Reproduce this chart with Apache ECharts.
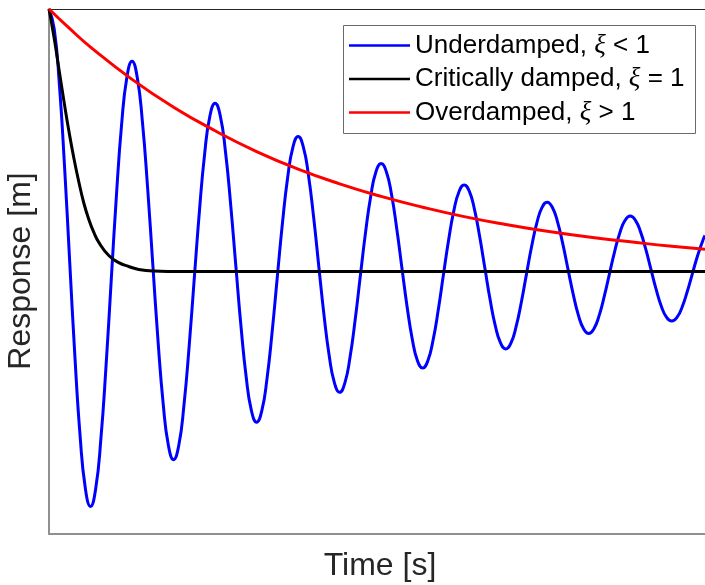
<!DOCTYPE html>
<html>
<head>
<meta charset="utf-8">
<script src="https://cdn.jsdelivr.net/npm/echarts@6/dist/echarts.min.js"></script>
<style>
  html, body { margin: 0; padding: 0; background: #fff; }
  #chart { width: 705px; height: 585px; }
</style>
</head>
<body>
<div id="chart"></div>
<script>
// Free response of a single-degree-of-freedom oscillator released from x0 = 1
const seriesNames = ['Underdamped', 'Critically damped', 'Overdamped'];
const dampingRelations = ['<', '=', '>'];
const seriesColors = ['#0000ff', '#000000', '#ff0000'];

// Underdamped response, sixteen samples per period of oscillation
const underTime = [
  0, 0.0625, 0.125, 0.1875, 0.25, 0.3125, 0.375, 0.4375, 0.5, 0.5625, 0.625, 0.6875, 0.75, 0.8125, 0.875, 0.9375,
  1, 1.0625, 1.125, 1.1875, 1.25, 1.3125, 1.375, 1.4375, 1.5, 1.5625, 1.625, 1.6875, 1.75, 1.8125, 1.875, 1.9375,
  2, 2.0625, 2.125, 2.1875, 2.25, 2.3125, 2.375, 2.4375, 2.5, 2.5625, 2.625, 2.6875, 2.75, 2.8125, 2.875, 2.9375,
  3, 3.0625, 3.125, 3.1875, 3.25, 3.3125, 3.375, 3.4375, 3.5, 3.5625, 3.625, 3.6875, 3.75, 3.8125, 3.875, 3.9375,
  4, 4.0625, 4.125, 4.1875, 4.25, 4.3125, 4.375, 4.4375, 4.5, 4.5625, 4.625, 4.6875, 4.75, 4.8125, 4.875, 4.9375,
  5, 5.0625, 5.125, 5.1875, 5.25, 5.3125, 5.375, 5.4375, 5.5, 5.5625, 5.625, 5.6875, 5.75, 5.8125, 5.875, 5.9375,
  6, 6.0625, 6.125, 6.1875, 6.25, 6.3125, 6.375, 6.4375, 6.5, 6.5625, 6.625, 6.6875, 6.75, 6.8125, 6.875, 6.9375,
  7, 7.0625, 7.125, 7.1875, 7.25, 7.3125, 7.375, 7.4375, 7.5, 7.5625, 7.625, 7.6875, 7.75, 7.8125, 7.875, 7.9
];
const underValues = [
  1.000, 0.925, 0.712, 0.398, 0.033, -0.327, -0.628, -0.826, -0.895, -0.827, -0.637, -0.357, -0.030, 0.292, 0.562, 0.739,
  0.801, 0.740, 0.570, 0.319, 0.027, -0.262, -0.503, -0.662, -0.717, -0.663, -0.510, -0.286, -0.024, 0.234, 0.450, 0.592,
  0.641, 0.593, 0.457, 0.256, 0.021, -0.210, -0.403, -0.530, -0.574, -0.531, -0.409, -0.229, -0.019, 0.188, 0.360, 0.474,
  0.514, 0.475, 0.366, 0.205, 0.017, -0.168, -0.322, -0.424, -0.460, -0.425, -0.327, -0.183, -0.015, 0.150, 0.288, 0.380,
  0.411, 0.380, 0.293, 0.164, 0.014, -0.134, -0.258, -0.340, -0.368, -0.340, -0.262, -0.147, -0.012, 0.120, 0.231, 0.304,
  0.330, 0.305, 0.235, 0.131, 0.011, -0.108, -0.207, -0.272, -0.295, -0.273, -0.210, -0.118, -0.010, 0.096, 0.185, 0.244,
  0.264, 0.244, 0.188, 0.105, 0.009, -0.086, -0.166, -0.218, -0.236, -0.218, -0.168, -0.094, -0.008, 0.077, 0.148, 0.195,
  0.211, 0.195, 0.150, 0.084, 0.007, -0.069, -0.133, -0.175, -0.189, -0.175, -0.135, -0.075, -0.006, 0.062, 0.119, 0.137
];

// Critically damped response
const critTime = [0, 0.06, 0.12, 0.18, 0.24, 0.30, 0.36, 0.42, 0.48, 0.54, 0.60,
  0.72, 0.84, 0.96, 1.08, 1.26, 1.6, 2.5, 4, 6, 7.9];
const critValues = [1.000, 0.893, 0.771, 0.649, 0.534, 0.431, 0.340, 0.260, 0.198, 0.149, 0.111,
  0.061, 0.034, 0.019, 0.008, 0.002, 0, 0, 0, 0, 0];

// Overdamped response
const overTime = [0, 0.25, 0.5, 1, 1.5, 2, 2.5, 3, 3.5, 4, 4.5, 5, 5.5, 6, 6.5, 7, 7.5, 7.9];
const overValues = [1.000, 0.925, 0.855, 0.732, 0.626, 0.536, 0.457, 0.390, 0.334, 0.286,
  0.245, 0.209, 0.179, 0.153, 0.131, 0.113, 0.096, 0.085];

const xLabel = 'Time [s]';
const yLabel = 'Response [m]';

function zip(t, v) { return t.map((x, i) => [x, v[i]]); }
const seriesData = [zip(underTime, underValues), zip(critTime, critValues), zip(overTime, overValues)];

const chart = echarts.init(document.getElementById('chart'), null, { renderer: 'canvas' });

const hiddenAxisParts = {
  axisTick: { show: false },
  axisLabel: { show: false },
  splitLine: { show: false }
};

chart.setOption({
  animation: false,
  backgroundColor: '#ffffff',
  grid: { left: 49, right: 0, top: 9, bottom: 51 },
  xAxis: [
    Object.assign({
      type: 'value', min: 0, max: 7.9, position: 'bottom',
      axisLine: { show: true, onZero: false, lineStyle: { color: '#909090', width: 2 } }
    }, hiddenAxisParts),
    Object.assign({
      type: 'value', min: 0, max: 7.9, position: 'top',
      axisLine: { show: true, onZero: false, lineStyle: { color: '#262626', width: 1 } }
    }, hiddenAxisParts)
  ],
  yAxis: Object.assign({
    type: 'value', min: -1, max: 1,
    axisLine: { show: true, onZero: false, lineStyle: { color: '#909090', width: 2 } }
  }, hiddenAxisParts),
  legend: {
    orient: 'vertical',
    left: 349,
    top: 32,
    padding: 0,
    itemGap: 6.5,
    itemWidth: 61,
    itemHeight: 2.5,
    icon: 'rect',
    data: seriesNames,
    formatter: function (name) {
      const rel = dampingRelations[seriesNames.indexOf(name)];
      return '{t|' + name + ', }{g|ξ}{t| ' + rel + ' 1}';
    },
    textStyle: {
      rich: {
        t: { fontFamily: 'Liberation Sans', fontSize: 26, color: '#000' },
        g: { fontFamily: 'Liberation Serif', fontStyle: 'italic', fontSize: 27, color: '#000' }
      }
    }
  },
  graphic: [
    {
      type: 'rect', z: 3, silent: true,
      shape: { x: 343.5, y: 25.5, width: 352, height: 108 },
      style: { fill: '#ffffff', stroke: '#6a6a6a', lineWidth: 1 }
    },
    {
      type: 'text', x: 21, y: 271, rotation: Math.PI / 2, silent: true,
      style: { text: yLabel, font: '32px "Liberation Sans"', fill: '#262626',
        textAlign: 'center', textVerticalAlign: 'middle' }
    },
    {
      type: 'text', x: 380, y: 566, silent: true,
      style: { text: xLabel, font: '32px "Liberation Sans"', fill: '#262626',
        textAlign: 'center', textVerticalAlign: 'middle' }
    }
  ],
  series: seriesNames.map((name, i) => ({
    name: name,
    type: 'line',
    data: seriesData[i],
    smooth: true,
    symbol: 'none',
    lineStyle: { color: seriesColors[i], width: 3 },
    itemStyle: { color: seriesColors[i] },
    z: 2 + i * 0.01
  }))
});
</script>
</body>
</html>
